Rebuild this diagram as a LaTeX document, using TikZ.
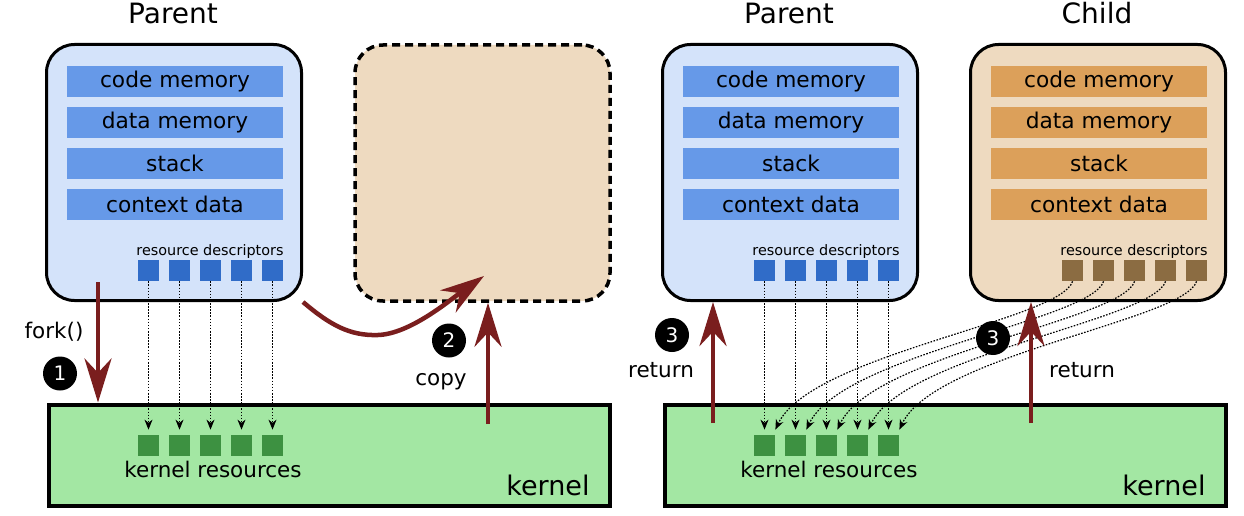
\documentclass[tikz,border=0pt]{standalone}
\usepackage{fontspec}
\setmainfont{DejaVu Sans}
\usetikzlibrary{arrows.meta,positioning,calc}

\definecolor{parentfill}{RGB}{212,227,250}
\definecolor{parentbar}{RGB}{102,153,232}
\definecolor{parentdesc}{RGB}{48,108,200}
\definecolor{childfill}{RGB}{238,218,192}
\definecolor{childbar}{RGB}{220,160,90}
\definecolor{childdesc}{RGB}{139,108,66}
\definecolor{kernfill}{RGB}{163,231,163}
\definecolor{kernsq}{RGB}{61,145,65}
\definecolor{darkred}{RGB}{122,30,30}

\tikzset{every picture/.style={line width=0.75pt}}
\tikzset{
  procbox/.style={draw=black, line width=3pt, rounded corners=28pt, minimum width=255pt, minimum height=256pt, inner sep=0pt},
  membar/.style={minimum width=216pt, minimum height=31pt, inner sep=0pt, font=\fontsize{21.7}{25}\selectfont},
  descsq/.style={minimum size=21pt, inner sep=0pt},
  kernbox/.style={draw=black, line width=4pt, fill=kernfill, minimum width=561pt, minimum height=101pt, inner sep=0pt},
  redarrow/.style={draw=darkred, line width=4.5pt, -{Stealth[length=44pt,width=27pt]}},
  dotarrow/.style={line width=1.2pt, dash pattern={on 1.6pt off 1.5pt}, -{Stealth[length=10pt,width=8pt]}},
  badge/.style={circle, fill=black, text=white, minimum size=34pt, inner sep=0pt, font=\fontsize{20}{24}\selectfont},
  lbl/.style={font=\fontsize{21.5}{25}\selectfont, inner sep=0pt},
  desclbl/.style={font=\fontsize{14.4}{17}\selectfont, inner sep=0pt},
  titlelbl/.style={font=\fontsize{28}{34}\selectfont, inner sep=0pt},
  biglbl/.style={font=\fontsize{27}{32}\selectfont, inner sep=0pt},
}

\begin{document}
\begin{tikzpicture}[x=1pt,y=1pt,yscale=-1,xscale=1]
\useasboundingbox (0,0) rectangle (1244,516);

%Shape: kernel boxes
\node[kernbox] (kernL) at (329.5,455) {};
\node[kernbox] (kernR) at (945.5,455) {};

%Shape: kernel resources
\foreach \i in {1,...,5}{
  \node[descsq, fill=kernsq] (kL\i) at (117.5+31*\i,445.5) {};
  \node[descsq, fill=kernsq] (kR\i) at (733.5+31*\i,445.5) {};
}

% Text Node
\node[lbl] (kresL) at (213,469.5) {kernel resources};
% Text Node
\node[lbl] (kresR) at (829,469.5) {kernel resources};
% Text Node
\node[biglbl, anchor=base] (knameL) at (548,495) {kernel};
% Text Node
\node[biglbl, anchor=base] (knameR) at (1164,495) {kernel};

%Shape: process boxes
\foreach \dx/\nm/\fl/\bc/\dc/\ttl in {0/L/parentfill/parentbar/parentdesc/Parent, 616/P/parentfill/parentbar/parentdesc/Parent, 924/C/childfill/childbar/childdesc/Child}{
  \node[procbox, fill=\fl] (box\nm) at (174+\dx,172.5) {};
  \node[titlelbl, anchor=base] (title\nm) at (173+\dx,24) {\ttl};
  \foreach \txt [count=\k] in {code memory, data memory, stack, context data}
    \node[membar, fill=\bc] (bar\nm\k) at (175+\dx,40.5+41*\k) {\txt};
  \node[desclbl, anchor=base] (rd\nm) at (210+\dx,255) {resource descriptors};
  \foreach \i in {1,...,5}
    \node[descsq, fill=\dc] (d\nm\i) at (117.5+31*\i+\dx,270.5) {};
}

%Shape: copy box
\node[procbox, fill=childfill, line width=3.5pt, dash pattern=on 8pt off 5pt] (copyBox) at (482.5,173) {};

%Dotted Lines: descriptors to kernel resources
\foreach \i in {1,...,5}{
  \draw[dotarrow, shorten >=5pt] (dL\i.south) -- (kL\i.north);
  \draw[dotarrow, shorten >=5pt] (dP\i.south) -- (kR\i.north);
  \draw[dotarrow] (dC\i.south) .. controls +(-12,39) and +(35,-75) .. ($(kR\i.north east)+(0,-5)$);
}

%Straight Lines: fork, copy, return
\coordinate (forkS) at (98,282);
\draw[redarrow] (forkS) -- (forkS |- kernL.north);
\coordinate (copyS) at (488,424);
\draw[redarrow] (copyS) -- (copyS |- copyBox.south);
\coordinate (retPS) at (713,423);
\draw[redarrow] (retPS) -- (retPS |- boxP.south);
\coordinate (retCS) at (1031,423);
\draw[redarrow] (retCS) -- (retCS |- boxC.south);

%Curve Lines: parent to copy
\coordinate (copyIn) at (484,276);
\draw[redarrow] (boxL.south east) .. controls (330,325) and (350,336) .. (378,335) .. controls (410,334) and (450,300) .. (copyIn);

% Text Node
\node[badge] (b1) at (60,373.5) {1};
% Text Node
\node[badge] (b2) at (449,340.5) {2};
% Text Node
\node[badge] (b3P) at (672,335) {3};
% Text Node
\node[badge] (b3C) at (993,338) {3};
% Text Node
\node[lbl, anchor=base] (forkLbl) at (54,338) {fork()};
% Text Node
\node[lbl, anchor=base] (copyLbl) at (441,385) {copy};
% Text Node
\node[lbl, anchor=base] (retPLbl) at (661,377) {return};
% Text Node
\node[lbl, anchor=base] (retCLbl) at (1082,377) {return};

\end{tikzpicture}
\end{document}
